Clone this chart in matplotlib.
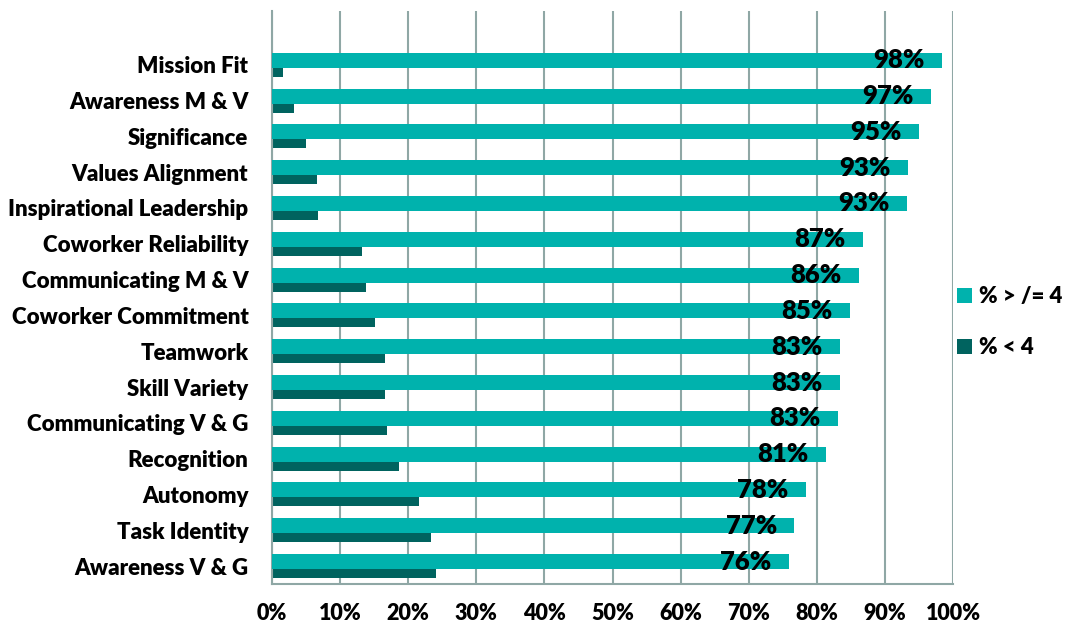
import matplotlib
matplotlib.use("Agg")
import matplotlib.pyplot as plt
from matplotlib.patches import Patch
import numpy as np

plt.rcParams['font.family'] = ['Lato', 'DejaVu Sans']
plt.rcParams['font.weight'] = 'heavy'

categories = [
    "Mission Fit", "Awareness M & V", "Significance", "Values Alignment",
    "Inspirational Leadership", "Coworker Reliability", "Communicating M & V",
    "Coworker Commitment", "Teamwork", "Skill Variety", "Communicating V & G",
    "Recognition", "Autonomy", "Task Identity", "Awareness V & G",
]
pct_high = [98.4, 96.8, 95.0, 93.4, 93.2, 86.8, 86.2, 84.9, 83.4, 83.4, 83.1,
            81.4, 78.4, 76.7, 75.9]
pct_low = [1.6, 3.2, 5.0, 6.6, 6.8, 13.2, 13.8, 15.1, 16.6, 16.6, 16.9,
           18.6, 21.6, 23.3, 24.1]
series_names = ["% > /= 4", "% < 4"]
xticks = [0, 10, 20, 30, 40, 50, 60, 70, 80, 90, 100]
xtick_labels = [f"{t}%" for t in xticks]

teal = "#00B2AD"
dark = "#00635F"
grid = "#8FA7A5"
W = "heavy"

fig = plt.figure(figsize=(10.68, 6.24), dpi=100)
ax = fig.add_axes([272 / 1068, 40 / 624, (953 - 272) / 1068, (584 - 11) / 624])

n = len(categories)
ypos = np.arange(n)[::-1].astype(float)

ax.barh(ypos - 0.209, pct_low, height=0.251, color=dark, zorder=2)
ax.barh(ypos + 0.1255, pct_high, height=0.418, color=teal, zorder=3)

for y, v in zip(ypos, pct_high):
    ax.annotate(f"{round(v)}%", xy=(v, y + 0.1255), xytext=(-12.5, 0),
                textcoords="offset points", ha="right", va="center",
                fontsize=18.5, fontweight=W, color="black", zorder=4)

ax.set_xlim(0, 100)
ax.set_ylim(-0.5, n + 0.5)
ax.set_xticks(xticks)
ax.set_xticklabels(xtick_labels, fontsize=15.5, fontweight=W)
ax.set_yticks(ypos)
ax.set_yticklabels(categories, fontsize=16, fontweight=W)
ax.tick_params(axis="y", length=0, pad=17)
ax.tick_params(axis="x", length=0, pad=13.5)

ax.grid(axis="x", color=grid, linewidth=1.5, zorder=1)
ax.set_axisbelow(True)
for side in ["top", "right"]:
    ax.spines[side].set_visible(False)
for side in ["left", "bottom"]:
    ax.spines[side].set_color(grid)
    ax.spines[side].set_linewidth(1.5)

handles = [Patch(facecolor=teal, edgecolor="none"), Patch(facecolor=dark, edgecolor="none")]
fig.legend(handles, series_names, loc="center left",
           bbox_to_anchor=(944 / 1068, 1 - 322 / 624), frameon=False,
           prop={"size": 16, "weight": W}, handlelength=0.66,
           handleheight=0.66, handletextpad=0.3, labelspacing=1.35,
           borderaxespad=0.2)

fig.savefig("out.png", dpi=100)
